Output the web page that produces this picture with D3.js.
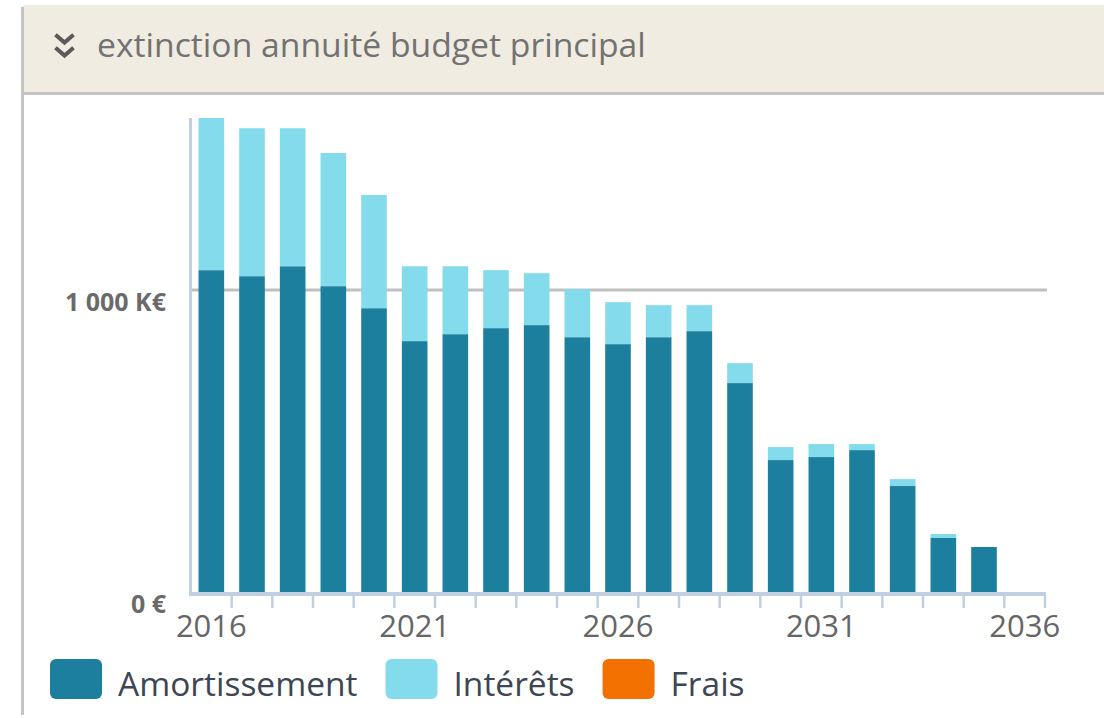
<!DOCTYPE html>
<html>
<head>
<meta charset="utf-8">
<script src="https://cdn.jsdelivr.net/npm/d3@7"></script>
<style>
  body { margin: 0; background: #fff; }
  svg { display: block; font-family: "Open Sans", sans-serif; }
</style>
</head>
<body>
<div id="chart"></div>
<script>
// values, in K€
const years = d3.range(2016, 2037);
const amortissement = [1066, 1046, 1079, 1013, 940, 831, 854, 874, 884, 844, 821, 844, 864, 692, 437, 447, 470, 351, 179, 149];
const interets = [504, 490, 457, 441, 375, 248, 225, 192, 172, 159, 139, 106, 86, 66, 43, 43, 20, 23, 13, 0];
const frais = [0, 0, 0, 0, 0, 0, 0, 0, 0, 0, 0, 0, 0, 0, 0, 0, 0, 0, 0, 0];
const yTicks = [0, 1000];
const yearLabels = [2016, 2021, 2026, 2031, 2036];
const seriesNames = ["Amortissement", "Intérêts", "Frais"];
const seriesColors = ["#1d7f9e", "#84dbeb", "#f27100"];

const W = 1104, H = 718;
const plot = { left: 191, right: 1045, top: 118, bottom: 592 };

const svg = d3.select("#chart").append("svg")
  .attr("width", W)
  .attr("height", H);

// panel: header band + left border
svg.append("rect")
  .attr("x", 22).attr("y", 5)
  .attr("width", W).attr("height", 88)
  .attr("rx", 3)
  .attr("fill", "#f1ece1");
svg.append("line")
  .attr("x1", 22).attr("x2", W)
  .attr("y1", 93.5).attr("y2", 93.5)
  .attr("stroke", "#c4c4c4").attr("stroke-width", 3);
svg.append("line")
  .attr("x1", 22.5).attr("x2", 22.5)
  .attr("y1", 7).attr("y2", 715)
  .attr("stroke", "#c4c4c4").attr("stroke-width", 3);

// double chevron icon
const chev = svg.append("g")
  .attr("fill", "none")
  .attr("stroke", "#5a5a5a")
  .attr("stroke-width", 4)
  .attr("stroke-linecap", "square");
[36, 49].forEach(y0 => {
  chev.append("path")
    .attr("d", `M57,${y0} L64.5,${y0 + 6.5} L72,${y0}`);
});

svg.append("text")
  .attr("x", 97)
  .attr("y", 57)
  .attr("font-size", 33.7)
  .attr("fill", "#727272")
  .text("extinction annuité budget principal");

// scales
const data = amortissement.map((a, i) => ({
  year: years[i], amort: a, inter: interets[i], frais: frais[i]
}));

const x = d3.scaleBand()
  .domain(years)
  .range([plot.left, plot.right])
  .paddingInner(0.37)
  .paddingOuter(0.185);

const y = d3.scaleLinear()
  .domain([0, d3.max(data, d => d.amort + d.inter + d.frais)])
  .range([plot.bottom, plot.top]);

// grid line
svg.append("g")
  .selectAll("line")
  .data(yTicks.filter(t => t > 0))
  .join("line")
  .attr("x1", plot.left).attr("x2", plot.right + 2)
  .attr("y1", d => y(d)).attr("y2", d => y(d))
  .attr("stroke", "#c0c0c0")
  .attr("stroke-width", 3);

// y labels
svg.append("g")
  .selectAll("text")
  .data(yTicks)
  .join("text")
  .attr("x", 166)
  .attr("y", d => y(d) + 21)
  .attr("text-anchor", "end")
  .attr("font-size", 25)
  .attr("font-weight", "bold")
  .attr("fill", "#6a6a6a")
  .text(d => d === 0 ? "0 €" : d3.format(",")(d).replace(",", " ") + " K€");

// stacked bars
const stack = d3.stack().keys(["amort", "inter", "frais"]);
const layers = stack(data);

svg.append("g")
  .selectAll("g")
  .data(layers)
  .join("g")
  .attr("fill", (d, i) => seriesColors[i])
  .selectAll("rect")
  .data(d => d)
  .join("rect")
  .attr("x", d => x(d.data.year))
  .attr("width", x.bandwidth())
  .attr("y", d => y(d[1]))
  .attr("height", d => y(d[0]) - y(d[1]));

// axes lines
svg.append("line")
  .attr("x1", 190.5).attr("x2", 190.5)
  .attr("y1", plot.top).attr("y2", plot.bottom + 4)
  .attr("stroke", "#c0d0e0").attr("stroke-width", 3);

const xAxis = d3.axisBottom(x)
  .tickValues(yearLabels)
  .tickSize(0)
  .tickPadding(0);

const gx = svg.append("g")
  .attr("transform", `translate(0,${plot.bottom + 2})`)
  .call(xAxis);
gx.select(".domain").remove();
gx.selectAll("text")
  .attr("dy", null)
  .attr("y", 43)
  .attr("font-size", 31)
  .attr("font-family", "Open Sans, sans-serif")
  .attr("fill", "#666");

svg.append("line")
  .attr("x1", 189).attr("x2", plot.right + 1)
  .attr("y1", plot.bottom + 2).attr("y2", plot.bottom + 2)
  .attr("stroke", "#c0d0e0").attr("stroke-width", 4);

// tick marks between categories
svg.append("g")
  .selectAll("line")
  .data(years)
  .join("line")
  .attr("x1", d => x(d) - x.step() * x.paddingOuter() + x.step())
  .attr("x2", d => x(d) - x.step() * x.paddingOuter() + x.step())
  .attr("y1", plot.bottom + 2)
  .attr("y2", plot.bottom + 16)
  .attr("stroke", "#c0d0e0")
  .attr("stroke-width", 2.5);

// legend
const legend = svg.append("g").attr("transform", "translate(50,659)");
let lx = 0;
seriesNames.forEach((name, i) => {
  const item = legend.append("g").attr("transform", `translate(${lx},0)`);
  item.append("rect")
    .attr("width", 52).attr("height", 40)
    .attr("rx", 6)
    .attr("fill", seriesColors[i]);
  const t = item.append("text")
    .attr("x", 68)
    .attr("y", 37)
    .attr("font-size", 33.5)
    .attr("fill", "#3c4654")
    .text(name);
  lx += 68 + t.node().getComputedTextLength() + 28;
});
</script>
</body>
</html>
